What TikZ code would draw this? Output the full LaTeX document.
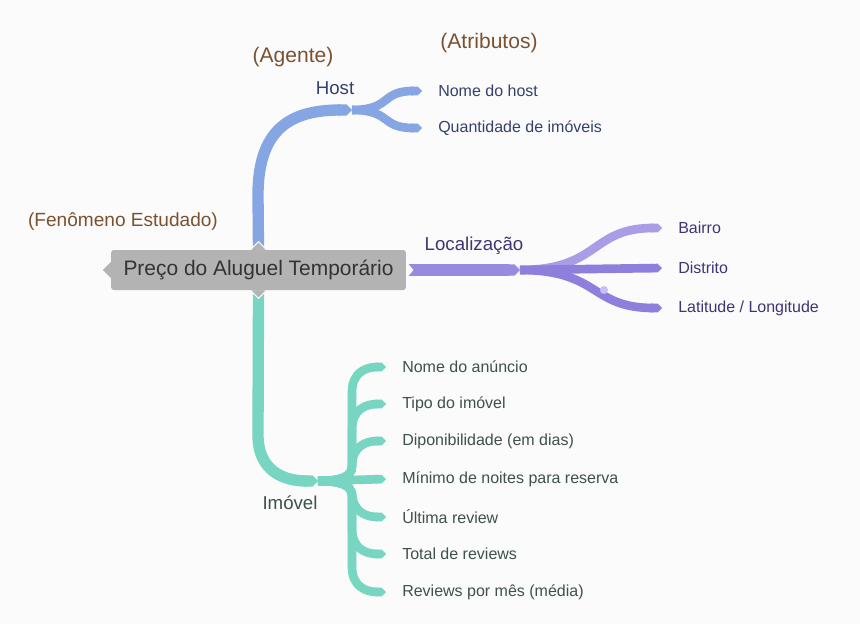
\documentclass[tikz,border=0pt]{standalone}
\usepackage{fontspec}
\setmainfont{Liberation Sans}
\usetikzlibrary{arrows.meta}
\definecolor{paper}{HTML}{FBFBFB}
\definecolor{core}{HTML}{B3B3B3}
\definecolor{coretext}{HTML}{333333}
\definecolor{note}{HTML}{7B5230}
\definecolor{hostc}{HTML}{86A5E3}
\definecolor{hosttext}{HTML}{34416C}
\definecolor{locc}{HTML}{9A8ADF}
\definecolor{loclight}{HTML}{AB9CE6}
\definecolor{locdark}{HTML}{8F7FDC}
\definecolor{locdot}{HTML}{C9C0F2}
\definecolor{loctext}{HTML}{3F3573}
\definecolor{imc}{HTML}{77D5C2}
\definecolor{imtext}{HTML}{3F504D}
\tikzset{
  band/.style={line width=8.5pt,-{Triangle Cap},preaction={draw=paper,line width=10.5pt}},
  twig/.style={line width=6.5pt,-{Triangle Cap}},
  note/.style={text=note,font=\fontsize{15.8}{18}\selectfont},
  branch/.style={font=\fontsize{14}{16}\selectfont},
  leaf/.style={anchor=west,inner sep=0pt,font=\fontsize{12}{14}\selectfont},
}

\begin{document}
\begin{tikzpicture}[x=.75pt,y=-.75pt]
\fill[paper] (0,0) rectangle (860,624);
\useasboundingbox (0,0) rectangle (860,624);
% texts
\node[fill=core,text=coretext,rounded corners=2pt,minimum width=221pt,minimum height=30pt,font=\fontsize{15.7}{18}\selectfont] (root) at (258.5,270) {Preço do Aluguel Temporário};
\node[note,font=\fontsize{14.3}{17}\selectfont] (fen) at (123,222) {(Fenômeno Estudado)};
\node[note] (agente) at (293,57) {(Agente)};
\node[note] (atrib) at (489,43) {(Atributos)};
\node[branch,text=hosttext] (host) at (335,88) {Host};
\node[branch,text=loctext] (local) at (474,246) {Localização};
\node[branch,text=imtext] (imovel) at (290,503) {Imóvel};
\node[leaf,text=hosttext] (hname) at (438,91) {Nome do host};
\node[leaf,text=hosttext] (hqtd) at (438,128) {Quantidade de imóveis};
\node[leaf,text=loctext] (bairro) at (678,228) {Bairro};
\node[leaf,text=loctext] (distrito) at (678,268) {Distrito};
\node[leaf,text=loctext] (latlon) at (678,308) {Latitude / Longitude};
\node[leaf,text=imtext] (anuncio) at (402,367) {Nome do anúncio};
\node[leaf,text=imtext] (tipo) at (402,404) {Tipo do imóvel};
\node[leaf,text=imtext] (dispo) at (402,441) {Diponibilidade (em dias)};
\node[leaf,text=imtext] (minimo) at (402,479) {Mínimo de noites para reserva};
\node[leaf,text=imtext] (ultima) at (402,517) {Última review};
\node[leaf,text=imtext] (total) at (402,554) {Total de reviews};
\node[leaf,text=imtext] (mensal) at (402,592) {Reviews por mês (média)};
\coordinate (hostJ) at (352,110);
\coordinate (locJ) at (520,270);
\coordinate (imJ) at (318,481);
\coordinate (upT) at (352,466);
\coordinate (dnT) at (352,496);
% host
\draw[twig,hostc] (hostJ) .. controls (392,110) and (380,91) .. ([xshift=-12pt]hname.west);
\draw[twig,hostc] (hostJ) .. controls (392,110) and (380,128) .. ([xshift=-12pt]hqtd.west);
\draw[band,hostc] (root.north) -- (258,195) .. controls (258,125) and (295,110) .. (hostJ);
% localizacao
\draw[twig,locdark] (locJ) .. controls (600,270) and (590,308) .. ([xshift=-12pt]latlon.west);
\draw[twig,loclight] (locJ) .. controls (600,270) and (590,228) .. ([xshift=-12pt]bairro.west);
\draw[twig,locdark] (locJ) -- ([xshift=-12pt]distrito.west);
\fill[locdot] (604,290) circle (4);
\draw[band,locc] (root.east) -- (locJ);
\fill[paper] ([yshift=6.5pt]root.east) -- ([xshift=5.5pt]root.east) -- ([yshift=-6.5pt]root.east) -- cycle;
% imovel
\foreach \n in {anuncio,tipo,dispo}
  \draw[twig,imc] (imJ) .. controls +(20,0) and +(0,12) .. (upT) -- ([yshift=-19pt]\n.west -| upT) .. controls +(0,-20) and +(-20,0) .. ([xshift=-12pt]\n.west);
\foreach \n in {ultima,total,mensal}
  \draw[twig,imc] (imJ) .. controls +(20,0) and +(0,-12) .. (dnT) -- ([yshift=19pt]\n.west -| dnT) .. controls +(0,20) and +(-20,0) .. ([xshift=-12pt]\n.west);
\draw[twig,imc] (imJ) -- ([xshift=-12pt]minimo.west);
\draw[band,imc] (root.south) -- (258,435) .. controls (258,472) and (285,481) .. (imJ);
% tips of the core node
\fill[core] ([yshift=6pt]root.west) -- ([xshift=-6pt]root.west) -- ([yshift=-6pt]root.west) -- cycle;
\filldraw[fill=core,draw=paper,line width=.8pt] ([xshift=-6pt]root.north) -- ([yshift=6pt]root.north) -- ([xshift=6pt]root.north);
\filldraw[fill=core,draw=paper,line width=.8pt] ([xshift=-6pt]root.south) -- ([yshift=-6pt]root.south) -- ([xshift=6pt]root.south);
\end{tikzpicture}
\end{document}
